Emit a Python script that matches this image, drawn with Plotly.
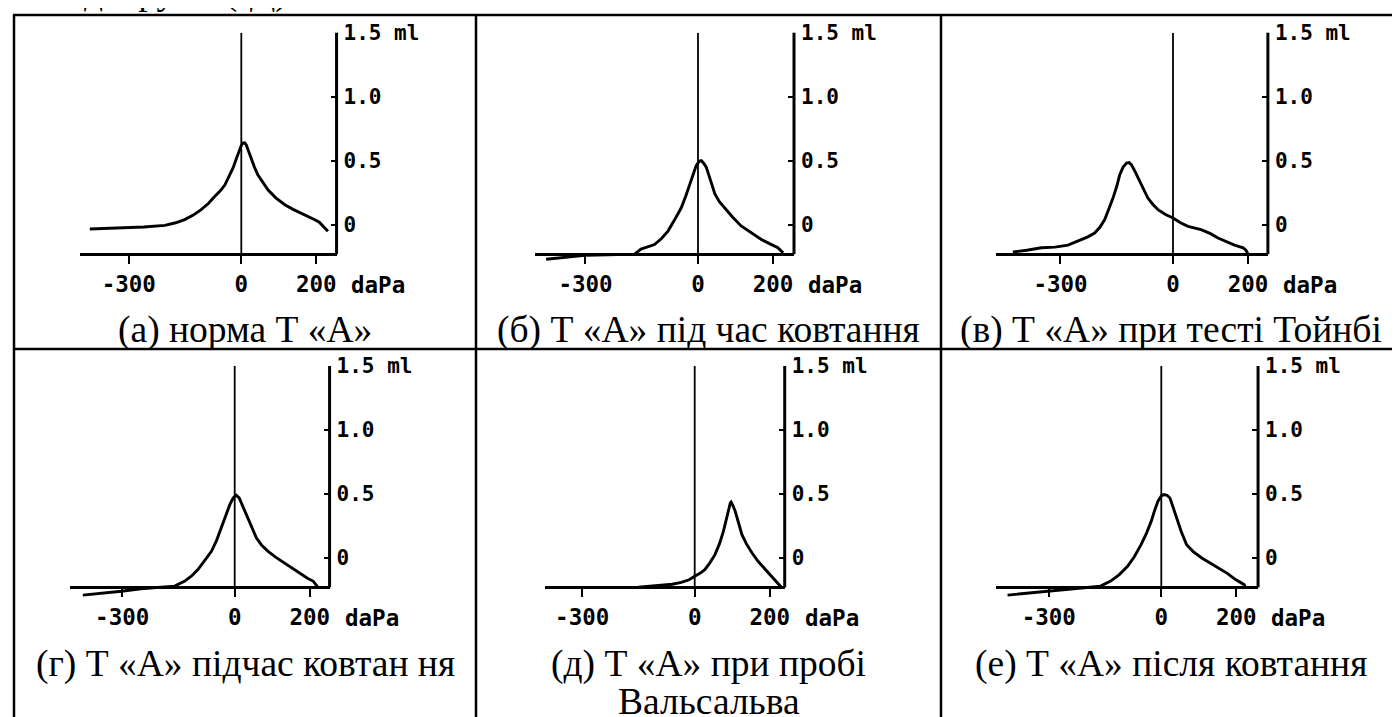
import plotly.graph_objects as go

# ---------------- data ----------------
captions = [
    "(а) норма Т «А»",
    "(б) Т «А» під час ковтання",
    "(в) Т «А» при тесті Тойнбі",
    "(г) Т «А» підчас ковтан ня",
    "(д) Т «А» при пробі",
    "(е) Т «А» після ковтання",
]
caption_d_line2 = "Вальсальва"
header_text = "ді групи (ІД)"
x_unit_label = "daPa"

pressure_a = [-404, -360, -311, -260, -204, -175, -151, -128, -107, -88, -71, -56, -44, -32, -22, -14, -7, 0,
              4.5, 9, 13, 19, 27, 35, 44, 57, 71, 92, 116, 138, 160, 178, 196, 208, 218, 231]
volume_a = [-0.034, -0.03, -0.026, -0.018, -0.005, 0.015, 0.04, 0.075, 0.117, 0.165, 0.22, 0.265, 0.31, 0.38,
            0.443, 0.51, 0.573, 0.62, 0.638, 0.64, 0.625, 0.575, 0.508, 0.45, 0.39, 0.33, 0.273, 0.21, 0.156,
            0.12, 0.091, 0.065, 0.039, 0.02, -0.013, -0.052]

pressure_b = [-405, -350, -302, -240, -169, -152, -135, -116, -98, -80, -62, -45, -33, -23, -13, -5, 3, 9, 15,
              22, 33, 45, 57, 71, 92, 115, 140, 169, 192, 213, 227]
volume_b = [-0.27, -0.255, -0.24, -0.235, -0.23, -0.19, -0.175, -0.155, -0.11, -0.05, 0.04, 0.13, 0.22, 0.31,
            0.39, 0.46, 0.495, 0.5, 0.48, 0.45, 0.35, 0.24, 0.18, 0.13, 0.06, -0.01, -0.06, -0.115, -0.15,
            -0.18, -0.22]

pressure_c = [-427, -390, -351, -315, -280, -262, -245, -227, -209, -195, -182, -171, -160, -150, -142, -133,
              -124, -117, -111, -102, -93, -80, -67, -54, -40, -20, 0, 20, 40, 75, 100, 120, 142, 164, 187,
              195, 200]
volume_c = [-0.213, -0.2, -0.18, -0.175, -0.16, -0.14, -0.117, -0.095, -0.065, -0.02, 0.04, 0.12, 0.208, 0.3,
            0.39, 0.45, 0.482, 0.485, 0.469, 0.42, 0.365, 0.29, 0.208, 0.16, 0.117, 0.08, 0.052, 0.015,
            -0.013, -0.039, -0.07, -0.104, -0.13, -0.16, -0.18, -0.2, -0.23]

pressure_d = [-405, -350, -302, -250, -196, -160, -133, -115, -98, -80, -62, -48, -36, -24, -13, -4, 4, 12,
              22, 35.5, 46, 58, 72, 89, 110, 133, 155, 178, 195, 209, 222]
volume_d = [-0.29, -0.275, -0.26, -0.24, -0.23, -0.22, -0.18, -0.14, -0.091, -0.02, 0.052, 0.14, 0.234,
            0.33, 0.417, 0.47, 0.49, 0.469, 0.4, 0.313, 0.23, 0.156, 0.1, 0.052, 0.005, -0.039, -0.085,
            -0.13, -0.16, -0.18, -0.227]

pressure_e = [-150, -120, -90, -60, -36, -15, 0, 14, 27, 40, 54, 66, 76.5, 84, 90, 95, 97, 102, 108, 117,
              126, 138, 153, 170, 189, 203, 216, 230]
volume_e = [-0.229, -0.222, -0.216, -0.205, -0.19, -0.17, -0.143, -0.12, -0.091, -0.04, 0.026, 0.11, 0.208,
            0.3, 0.39, 0.43, 0.437, 0.41, 0.365, 0.27, 0.182, 0.11, 0.039, -0.03, -0.091, -0.135, -0.18,
            -0.224]

pressure_f = [-410, -360, -315, -250, -198, -162, -135, -112, -90, -72, -54, -40, -27, -18, -9, 0, 7, 15, 23,
              31, 40.5, 54, 67.5, 85, 108, 130, 153, 176, 198, 212, 221, 225]
volume_f = [-0.29, -0.275, -0.26, -0.24, -0.23, -0.22, -0.18, -0.13, -0.065, 0.01, 0.104, 0.19, 0.286, 0.37,
            0.443, 0.485, 0.495, 0.49, 0.469, 0.4, 0.313, 0.2, 0.104, 0.05, 0.0, -0.04, -0.078, -0.12,
            -0.169, -0.19, -0.208, -0.234]

x_tickvals = [-300, 0, 200]
x_ticktext = ["-300", "0", "200"]
NB = "\u00a0"
y_tickvals = [0, 0.5, 1.0, 1.5]
y_ticktext = ["0", "0.5", "1.0", "1.5" + NB + "ml"]

pressures = [pressure_a, pressure_b, pressure_c, pressure_d, pressure_e, pressure_f]
volumes = [volume_a, volume_b, volume_c, volume_d, volume_e, volume_f]

# ---------------- layout geometry ----------------
FIG_W, FIG_H = 1400, 717
PX_PER_DAPA = 0.375
PX_PER_ML = 128
Y_BASE = -0.23
Y_RANGE = [-0.33, 1.5]

panel_geom = [
    dict(zero_px=233.3, xmin=-431, xmax=254, zero_py=216.7),
    dict(zero_px=690.0, xmin=-435, xmax=256, zero_py=216.7),
    dict(zero_px=1165.0, xmin=-471, xmax=253, zero_py=216.7),
    dict(zero_px=226.7, xmin=-440, xmax=253, zero_py=550.0),
    dict(zero_px=686.7, xmin=-400, xmax=240, zero_py=550.0),
    dict(zero_px=1153.3, xmin=-440, xmax=258, zero_py=550.0),
]

cell_cx = [237, 700.5, 1163]
caption_cy = [322, 656]

x_tick_font = dict(family="DejaVu Sans Mono", size=22.5, color="black", weight="bold")
y_tick_font = dict(family="DejaVu Sans Mono", size=21, color="black", weight="bold")
cap_font = dict(family="Liberation Serif, Times New Roman, serif", size=37.5, color="black")


def pxx(px):
    return px / FIG_W


def pxy(py):
    return 1 - py / FIG_H


fig = go.Figure()
layout_axes = {}
shapes = []
annotations = []

for i, (xs, ys, g) in enumerate(zip(pressures, volumes, panel_geom), start=1):
    sx = "" if i == 1 else str(i)
    fig.add_trace(go.Scatter(
        x=xs, y=ys, mode="lines", line=dict(color="black", width=2.9),
        xaxis="x" + sx, yaxis="y" + sx, showlegend=False, hoverinfo="skip"))
    x0 = pxx(g["zero_px"] + g["xmin"] * PX_PER_DAPA)
    x1 = pxx(g["zero_px"] + g["xmax"] * PX_PER_DAPA)
    ytop = pxy(g["zero_py"] - Y_RANGE[1] * PX_PER_ML)
    ybot = pxy(g["zero_py"] - Y_RANGE[0] * PX_PER_ML)
    ybase = pxy(g["zero_py"] - Y_BASE * PX_PER_ML)
    layout_axes["xaxis" + sx] = dict(
        domain=[x0, x1], range=[g["xmin"], g["xmax"]], anchor="free", position=ybase,
        showline=True, linecolor="black", linewidth=3, ticks="outside", ticklen=8, tickwidth=2,
        tickcolor="black", tickvals=x_tickvals, ticktext=x_ticktext, tickfont=x_tick_font,
        tickangle=0, automargin=False, ticklabelstandoff=1, showgrid=False, zeroline=False,
        fixedrange=True)
    layout_axes["yaxis" + sx] = dict(
        domain=[ybot, ytop], range=Y_RANGE, anchor="x" + sx, side="right", showline=False,
        ticks="inside", ticklen=6, tickwidth=2, tickcolor="black", tickvals=y_tickvals,
        ticktext=y_ticktext, tickfont=y_tick_font, ticklabelstandoff=6, automargin=False,
        showgrid=False, zeroline=False, fixedrange=True)
    # vertical axis line (from the baseline up to 1.5 ml)
    shapes.append(dict(type="line", xref="paper", yref="paper", x0=x1, x1=x1, y0=ybase, y1=ytop,
                       line=dict(color="black", width=3)))
    # 0 daPa reference line
    shapes.append(dict(type="line", xref="x" + sx, yref="y" + sx, x0=0, x1=0, y0=Y_BASE, y1=Y_RANGE[1],
                       line=dict(color="black", width=1.8)))
    # unit label after the last x tick
    annotations.append(dict(text=x_unit_label, xref="x" + sx, yref="paper", x=x_tickvals[-1], y=ybase,
                            xanchor="left", yanchor="top", xshift=33, yshift=-16, showarrow=False,
                            font=x_tick_font))

# table borders
TABLE_L, TABLE_R, TABLE_T, ROW_DIV = 6, 1393, 7, 341
COL_DIVS = [468, 933]
BW = 2.5
for yb in [TABLE_T, ROW_DIV]:
    shapes.append(dict(type="line", xref="paper", yref="paper", x0=pxx(TABLE_L - 1), x1=pxx(TABLE_R + 1),
                       y0=pxy(yb), y1=pxy(yb), line=dict(color="black", width=BW)))
for xb in [TABLE_L] + COL_DIVS + [TABLE_R]:
    shapes.append(dict(type="line", xref="paper", yref="paper", x0=pxx(xb), x1=pxx(xb),
                       y0=pxy(TABLE_T), y1=pxy(FIG_H + 5), line=dict(color="black", width=BW)))

# captions
for k, cap in enumerate(captions):
    annotations.append(dict(text=cap, xref="paper", yref="paper", x=pxx(cell_cx[k % 3]),
                            y=pxy(caption_cy[k // 3]), xanchor="center", yanchor="middle",
                            showarrow=False, font=cap_font))
annotations.append(dict(text=caption_d_line2, xref="paper", yref="paper", x=pxx(cell_cx[1]),
                        y=pxy(caption_cy[1] + 37), xanchor="center", yanchor="middle",
                        showarrow=False, font=cap_font))
# header text cut off at the top of the page
annotations.append(dict(text=header_text, xref="paper", yref="paper", x=pxx(282), y=pxy(7),
                        xanchor="right", yanchor="bottom", showarrow=False, font=cap_font))

fig.update_layout(
    width=FIG_W, height=FIG_H, margin=dict(l=0, r=0, t=0, b=0, autoexpand=False),
    paper_bgcolor="white", plot_bgcolor="white", showlegend=False,
    shapes=shapes, annotations=annotations, **layout_axes)

fig.write_html("out.html", config={"displayModeBar": False})
